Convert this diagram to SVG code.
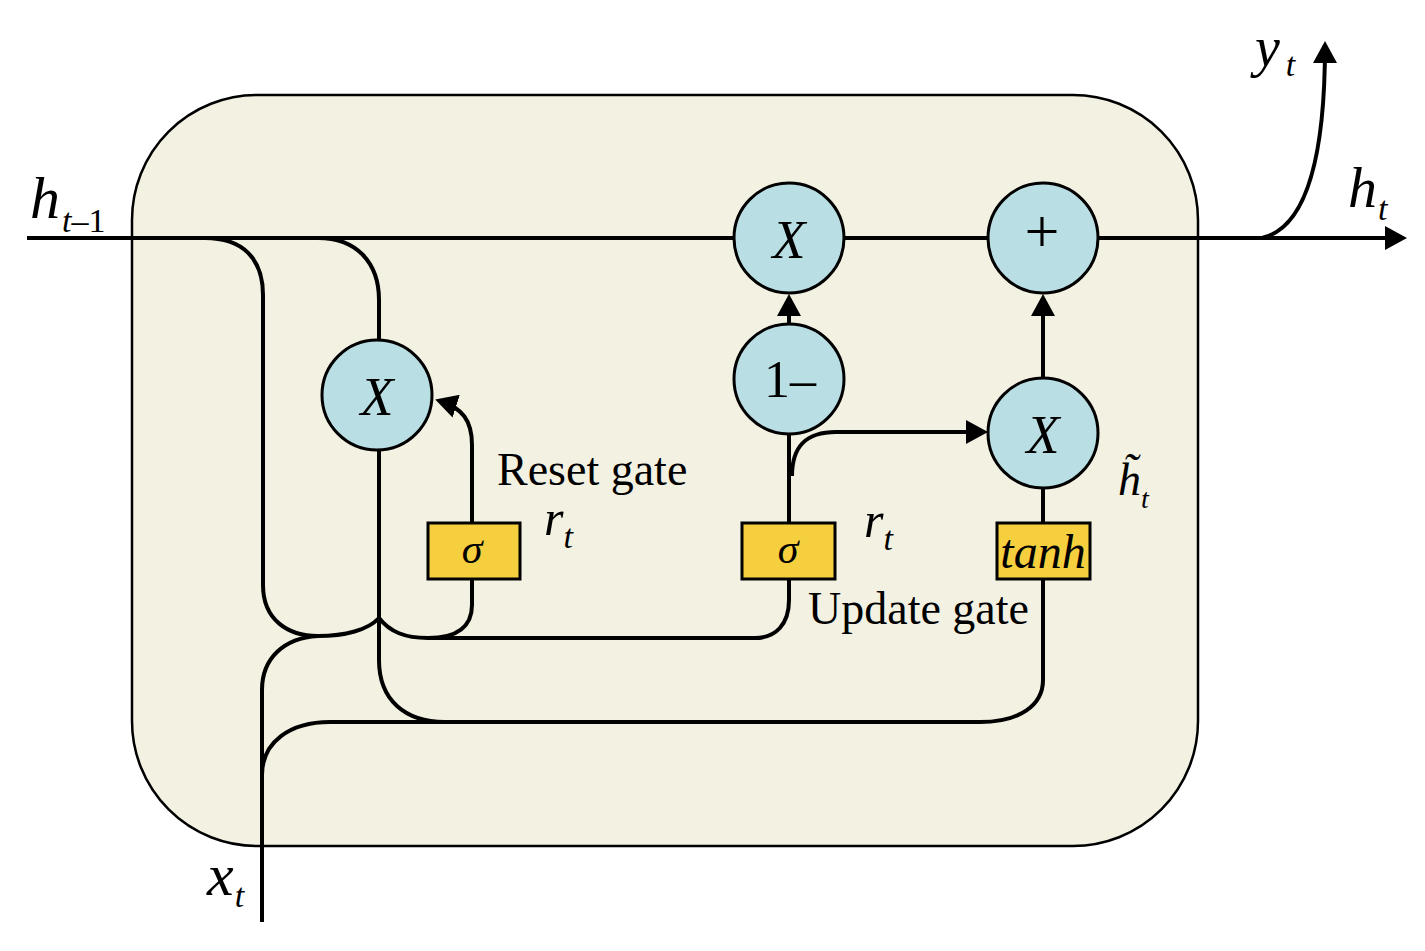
<svg xmlns="http://www.w3.org/2000/svg" width="1425" height="951" viewBox="0 0 1425 951">
<defs>
<marker id="arr" markerUnits="userSpaceOnUse" viewBox="0 0 22 24" refX="17" refY="12" markerWidth="22" markerHeight="24" orient="auto">
<path d="M0,0 L22,12 L0,24 z" fill="#000"/>
</marker>
</defs>
<style>
.ln{fill:none;stroke:#000;stroke-width:4;}
.op{fill:#B9DEE4;stroke:#000;stroke-width:3;}
.gt{fill:#F6CF3E;stroke:#000;stroke-width:3;}
.t{font-family:"Liberation Serif","Times New Roman",serif;fill:#000;}
.i{font-style:italic;}
</style>
<rect id="cell" x="132" y="95" width="1066" height="751" rx="125" ry="125" fill="#F3F1E2" stroke="#000" stroke-width="2.5"/>
<g id="connectors">
<path class="ln" d="M27,238 H1402" marker-end="url(#arr)"/>
<path class="ln" d="M1262,238 C1305,228 1325,160 1325,46" marker-end="url(#arr)"/>
<path class="ln" d="M205,238 C242,238 263,258 263,295 V585 C263,620 288,636 318,636 C345,636 368,630 379,618"/>
<path class="ln" d="M318,238 C356,238 379,262 379,300 V340"/>
<path class="ln" d="M262,922 V690 C262,658 284,638 318,636"/>
<path class="ln" d="M379,450 V660 C379,700 405,722 445,722"/>
<path class="ln" d="M262,775 C262,742 290,722 330,722 H980 C1020,722 1043,705 1043,680 V579"/>
<path class="ln" d="M379,618 C390,632 405,638 428,638 H755 C776,638 789,624 789,600 V579"/>
<path class="ln" d="M472,579 V605 C472,626 458,638 428,638"/>
<path class="ln" d="M472,523 V445 C472,420 462,408 440,401" marker-end="url(#arr)"/>
<path class="ln" d="M789,523 V435"/>
<path class="ln" d="M792,476 C792,446 806,432 836,432 H983" marker-end="url(#arr)"/>
<path class="ln" d="M789,323 V299" marker-end="url(#arr)"/>
<path class="ln" d="M1043,378 V299" marker-end="url(#arr)"/>
<path class="ln" d="M1043,523 V488"/>
</g>
<g id="mult_reset"><circle class="op" cx="377" cy="395" r="55"/><text class="t i" x="377" y="415" font-size="54" text-anchor="middle">X</text></g>
<g id="mult_top"><circle class="op" cx="789" cy="238" r="55"/><text class="t i" x="789" y="258" font-size="54" text-anchor="middle">X</text></g>
<g id="plus"><circle class="op" cx="1043" cy="238" r="55"/><text class="t" x="1042" y="252" font-size="62" text-anchor="middle">+</text></g>
<g id="one_minus"><circle class="op" cx="789" cy="379" r="55"/><text class="t" x="790" y="397" font-size="52" text-anchor="middle">1–</text></g>
<g id="mult_cand"><circle class="op" cx="1043" cy="433" r="55"/><text class="t i" x="1043" y="453" font-size="54" text-anchor="middle">X</text></g>
<g id="sigma_reset"><rect class="gt" x="428" y="523" width="92" height="56"/><text class="t i" x="472" y="563" font-size="42" text-anchor="middle">σ</text></g>
<g id="sigma_update"><rect class="gt" x="742" y="523" width="93" height="56"/><text class="t i" x="788" y="563" font-size="42" text-anchor="middle">σ</text></g>
<g id="tanh"><rect class="gt" x="997" y="523" width="93" height="56"/><text class="t i" x="1043" y="568" font-size="48" text-anchor="middle">tanh</text></g>
<g id="labels">
<text class="t i" x="30" y="218" font-size="60">h<tspan dx="2" dy="14" font-size="34">t</tspan><tspan font-style="normal" font-size="34">–1</tspan></text>
<text class="t i" x="1348" y="207" font-size="58">h<tspan dx="1" dy="13" font-size="34">t</tspan></text>
<text class="t i" x="1255" y="66" font-size="56">y<tspan dx="6" dy="10" font-size="34">t</tspan></text>
<text class="t i" x="207" y="895" font-size="60">x<tspan dx="1" dy="12" font-size="34">t</tspan></text>
<text class="t" x="497" y="485" font-size="46">Reset gate</text>
<text class="t" x="808" y="624" font-size="46">Update gate</text>
<text class="t i" x="544" y="535" font-size="50">r<tspan dy="13" font-size="34">t</tspan></text>
<text class="t i" x="864" y="537" font-size="50">r<tspan dy="13" font-size="34">t</tspan></text>
<text class="t i" x="1118" y="495" font-size="46">h&#x303;<tspan dy="13" font-size="28">t</tspan></text>
</g>
</svg>
